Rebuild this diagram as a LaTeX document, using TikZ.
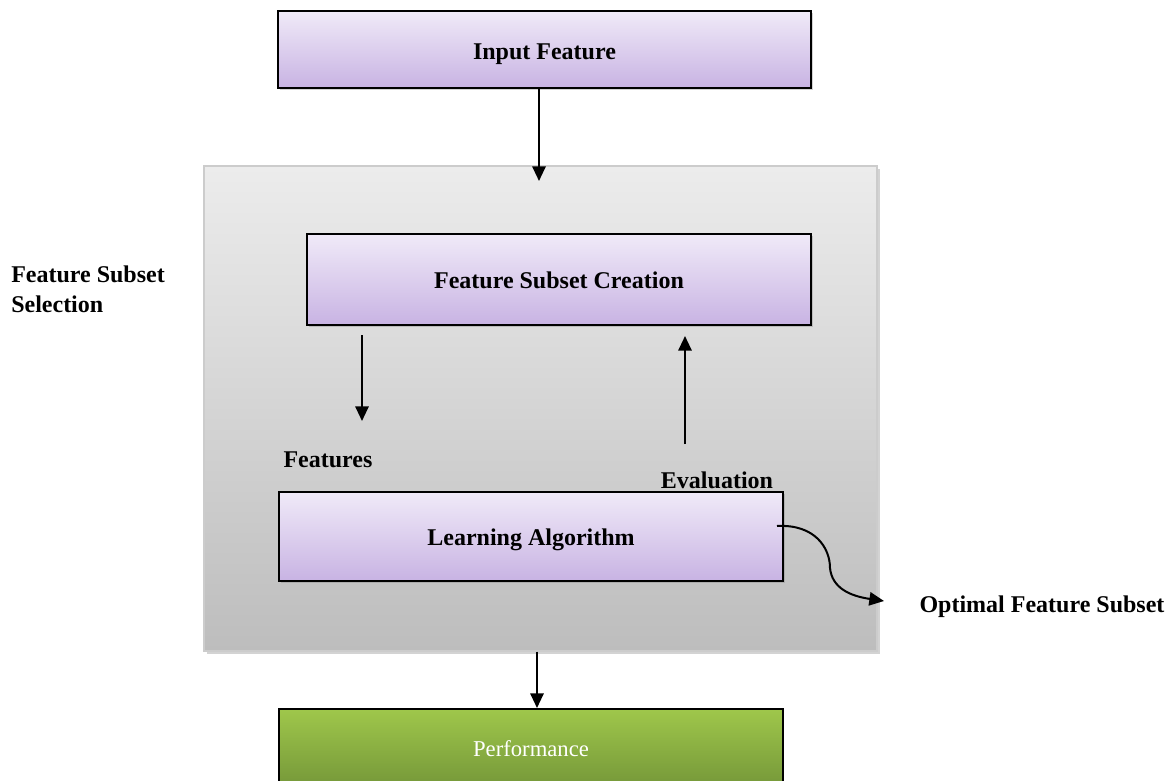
\documentclass[tikz,border=0pt]{standalone}
\usepackage{fontspec}
\setmainfont{Liberation Serif}
\usetikzlibrary{arrows.meta,shadows}
\definecolor{lavtop}{HTML}{F0EAF8}
\definecolor{lavbot}{HTML}{C8B3E3}
\definecolor{graytop}{HTML}{ECECEC}
\definecolor{graybot}{HTML}{BDBDBD}
\definecolor{greentop}{HTML}{9FC74B}
\definecolor{greenbot}{HTML}{739538}
\newcommand{\lowtxt}[2]{\raisebox{#1}[0pt][0pt]{#2}}
\tikzset{
  procbox/.style={draw=black, line width=1.5pt, rectangle, top color=lavtop, bottom color=lavbot,
    drop shadow={shadow xshift=1.5pt, shadow yshift=-1.5pt, opacity=0.35},
    font=\fontsize{18}{21}\selectfont\bfseries},
  outerbox/.style={draw=black!20, line width=0.8pt, rectangle, top color=graytop, bottom color=graybot,
    drop shadow={shadow xshift=2pt, shadow yshift=-2.5pt, opacity=0.35}},
  perfbox/.style={draw=black, line width=1.5pt, rectangle, top color=greentop, bottom color=greenbot,
    text=white, font=\fontsize{17}{20}\selectfont},
  lbl/.style={font=\fontsize{18}{21}\selectfont\bfseries, inner sep=0pt},
  arr/.style={line width=1.5pt, -{Triangle[length=11pt,width=10pt]}}
}
\begin{document}
\begin{tikzpicture}[x=0.75pt,y=-0.75pt]
\useasboundingbox (0,0) rectangle (1168,781);
% outer container
\node[outerbox, minimum width=504.75pt, minimum height=363.75pt, inner sep=0pt] (sel) at (540.5,408.5) {};
% boxes
\node[procbox, minimum width=399.75pt, minimum height=57.75pt, inner sep=0pt] (in) at (544.5,49.5) {\lowtxt{-7.5pt}{Input Feature}};
\node[procbox, minimum width=378pt, minimum height=68.25pt, inner sep=0pt] (fsc) at (559,279.5) {\lowtxt{-7pt}{Feature Subset Creation}};
\node[procbox, minimum width=378pt, minimum height=66.75pt, inner sep=0pt] (la) at (531,536.5) {\lowtxt{-7pt}{Learning Algorithm}};
\node[perfbox, minimum width=378pt, minimum height=61.5pt, inner sep=0pt, anchor=north] (perf) at (531,708) {\lowtxt{-5pt}{Performance}};
% labels
\node[lbl, anchor=north west, align=left] (fss) at (11,266) {Feature Subset\\[1pt]Selection};
\node[lbl] (feat) at (328,460) {Features};
\node[lbl] (eval) at (717,480) {Evaluation};
\node[lbl] (opt) at (1042,607) {Optimal Feature Subset};
% coordinates
\coordinate (a1) at (539,181);
\coordinate (f1) at (362,335);
\coordinate (f2) at (362,421);
\coordinate (e1) at (685,444);
\coordinate (e2) at (685,336);
\coordinate (c1) at (777,526);
\coordinate (c2) at (884,601);
% connectors
\draw[arr] (in.south -| a1) -- (a1);
\draw[arr] (f1) -- (f2);
\draw[arr] (e1) -- (e2);
\draw[arr] (c1) .. controls (815,524) and (830,548) .. (830,568) .. controls (832,588) and (850,596) .. (c2);
\draw[arr] (sel.south -| perf.north) ++(6,0) -- ([xshift=4.5pt]perf.north);
\end{tikzpicture}
\end{document}
